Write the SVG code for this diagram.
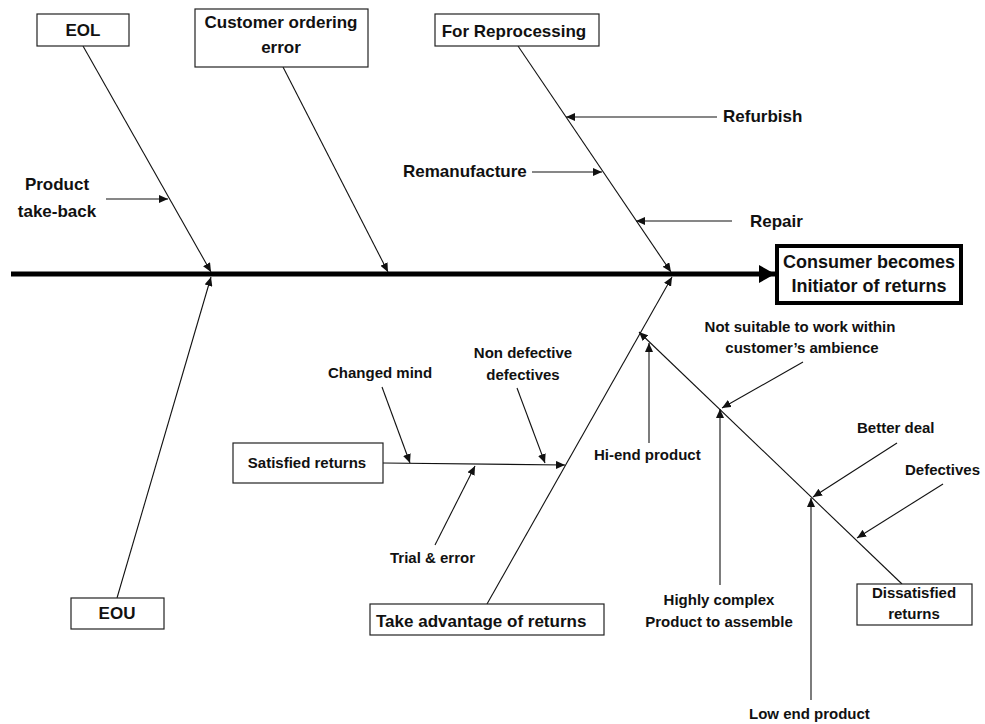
<svg xmlns="http://www.w3.org/2000/svg" width="985" height="724" viewBox="0 0 985 724">
<style>
text{font-family:"Liberation Sans",Arial,sans-serif;font-weight:bold;fill:#111}
.b{font-size:17px}
.s{font-size:15px}
.m{text-anchor:middle}
.box{fill:#fff;stroke:#222;stroke-width:1.2}
.ln{stroke:#111;stroke-width:1.1;fill:none}
.ar{stroke:#111;stroke-width:1.1;fill:none;marker-end:url(#ah)}
</style>
<defs>
<marker id="ah" markerUnits="userSpaceOnUse" markerWidth="10" markerHeight="8" refX="9" refY="4" orient="auto">
<path d="M0,0 L9,4 L0,8 z" fill="#111"/>
</marker>
<marker id="big" markerUnits="userSpaceOnUse" markerWidth="18" markerHeight="18" refX="16" refY="9" orient="auto">
<path d="M0,0 L16,9 L0,18 z" fill="#000"/>
</marker>
</defs>

<g id="connectors">
<line x1="11" y1="274" x2="775" y2="274" stroke="#000" stroke-width="5" marker-end="url(#big)"/>
<line class="ar" x1="83" y1="46" x2="211" y2="272"/>
<line class="ar" x1="283" y1="67" x2="388" y2="272"/>
<line class="ar" x1="518" y1="46" x2="671" y2="272"/>
<line class="ar" x1="117" y1="598" x2="211" y2="277"/>
<line class="ar" x1="487" y1="604" x2="672" y2="277"/>
<line class="ar" x1="106" y1="199" x2="168" y2="199"/>
<line class="ar" x1="717" y1="117" x2="566" y2="117"/>
<line class="ar" x1="532" y1="172" x2="602" y2="172"/>
<line class="ar" x1="732" y1="221" x2="636" y2="221"/>
<line class="ar" x1="383" y1="463" x2="565" y2="465"/>
<line class="ar" x1="382" y1="387" x2="410" y2="463"/>
<line class="ar" x1="517" y1="388" x2="545" y2="463"/>
<line class="ar" x1="435" y1="545" x2="475" y2="466"/>
<line class="ar" x1="902" y1="584" x2="639" y2="332"/>
<line class="ar" x1="649" y1="443" x2="649" y2="343"/>
<line class="ar" x1="803" y1="362" x2="722" y2="408"/>
<line class="ar" x1="720" y1="585" x2="720" y2="409"/>
<line class="ar" x1="897" y1="443" x2="813" y2="497"/>
<line class="ar" x1="943" y1="484" x2="857" y2="538"/>
<line class="ar" x1="811" y1="700" x2="811" y2="498"/>
</g>

<g id="consumer">
<rect x="777" y="246" width="184" height="57" fill="#fff" stroke="#000" stroke-width="4"/>
<text class="m" x="869" y="268" font-size="18">Consumer becomes</text>
<text class="m" x="869" y="292" font-size="18">Initiator of returns</text>
</g>
<g id="eol">
<rect class="box" x="37" y="14" width="92" height="32"/>
<text class="b m" x="83" y="36">EOL</text>
</g>
<g id="customer-ordering-error">
<rect class="box" x="195" y="9" width="173" height="58"/>
<text class="b m" x="281" y="28">Customer ordering</text>
<text class="b m" x="281" y="53">error</text>
</g>
<g id="for-reprocessing">
<rect class="box" x="435" y="14" width="164" height="32"/>
<text class="b m" x="514" y="37">For Reprocessing</text>
</g>
<g id="product-take-back">
<text class="b m" x="57" y="190">Product</text>
<text class="b m" x="57" y="217">take-back</text>
</g>
<g id="refurbish"><text class="b" x="723" y="122">Refurbish</text></g>
<g id="remanufacture"><text class="b" x="403" y="177">Remanufacture</text></g>
<g id="repair"><text class="b" x="750" y="227">Repair</text></g>
<g id="eou">
<rect class="box" x="71" y="598" width="93" height="31"/>
<text class="b m" x="117" y="619">EOU</text>
</g>
<g id="satisfied-returns">
<rect class="box" x="233" y="443" width="150" height="40"/>
<text class="s m" x="307" y="468">Satisfied returns</text>
</g>
<g id="changed-mind"><text class="s" x="328" y="378">Changed mind</text></g>
<g id="non-defective">
<text class="s m" x="523" y="358">Non defective</text>
<text class="s m" x="523" y="380">defectives</text>
</g>
<g id="trial-error"><text class="s" x="390" y="563">Trial &amp; error</text></g>
<g id="take-advantage">
<rect class="box" x="370" y="604" width="234" height="31"/>
<text class="b" x="376" y="627">Take advantage of returns</text>
</g>
<g id="hi-end"><text class="s" x="594" y="460">Hi-end product</text></g>
<g id="not-suitable">
<text class="s m" x="800" y="332">Not suitable to work within</text>
<text class="s m" x="802" y="353">customer’s ambience</text>
</g>
<g id="highly-complex">
<text class="s m" x="719" y="605">Highly complex</text>
<text class="s m" x="719" y="627">Product to assemble</text>
</g>
<g id="better-deal"><text class="s" x="857" y="433">Better deal</text></g>
<g id="defectives"><text class="s" x="905" y="475">Defectives</text></g>
<g id="dissatisfied-returns">
<rect class="box" x="857" y="584" width="115" height="41"/>
<text class="s m" x="914" y="598">Dissatisfied</text>
<text class="s m" x="914" y="619">returns</text>
</g>
<g id="low-end"><text class="s" x="749" y="719">Low end product</text></g>
</svg>
